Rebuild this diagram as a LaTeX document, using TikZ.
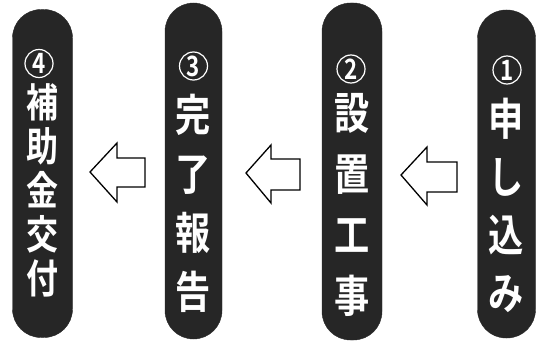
\documentclass[tikz,border=0pt]{standalone}
\usepackage{fontspec}
\newfontfamily\jpfont[FakeStretch=0.8]{Noto Sans CJK JP Bold}
\definecolor{pillgray}{HTML}{262626}
\tikzset{
  pill/.style={draw=pillgray, fill=pillgray, rounded corners=28.5pt, minimum width=58pt, minimum height=328pt, inner sep=0pt},
  pilltext/.style={text=white, align=center, font=\jpfont\fontsize{44}{#1}\selectfont, inner sep=0pt},
  numtext/.style={inner sep=0pt, text=white, font=\jpfont\fontsize{28}{28}\selectfont},
  numring/.style={draw=white, line width=1.2pt},
  flowarrow/.style={draw=black, fill=white, line width=1.3pt, line join=miter}
}
\begin{document}
\begin{tikzpicture}[x=1pt,y=-1pt]
\useasboundingbox (0,0) rectangle (540,342);
% pills
\node[pill, minimum width=60pt] (p4) at (42.5,173.5) {};
\node[pill, minimum width=57pt, minimum height=336pt] (p3) at (193.5,171) {};
\node[pill, minimum width=60pt, minimum height=337pt] (p2) at (352,171.5) {};
\node[pill, minimum width=58pt] (p1) at (506.5,174) {};
% circled numbers
\node[numtext] (n1) at (507,70) {1};
\node[numtext] (n2) at (351,69) {2};
\node[numtext] (n3) at (193.5,66) {3};
\node[numtext] (n4) at (39,63.5) {4};
\foreach \n in {n1,n2,n3,n4} \draw[numring] (\n.center) circle[radius=14pt];
% texts
\node[pilltext=58] (t1) at (506,205) {申\\し\\込\\み};
\node[pilltext=61] (t2) at (352,205) {設\\置\\工\\事};
\node[pilltext=59] (t3) at (193.5,203) {完\\了\\報\\告};
\node[pilltext=44, font=\jpfont\fontsize{40}{44}\selectfont] (t4) at (42.5,190) {補\\助\\金\\交\\付};
% arrows
\draw[flowarrow] (401,175) -- (427,147) -- (427,162) -- (457,162) -- (457,192) -- (427,192) -- (427,205) -- cycle;
\draw[flowarrow] (246,173) -- (271,145) -- (271,159) -- (300,159) -- (300,190) -- (271,190) -- (271,203) -- cycle;
\draw[flowarrow] (90,172) -- (117,143) -- (117,158) -- (145,158) -- (145,187) -- (117,187) -- (117,202) -- cycle;
\end{tikzpicture}
\end{document}
